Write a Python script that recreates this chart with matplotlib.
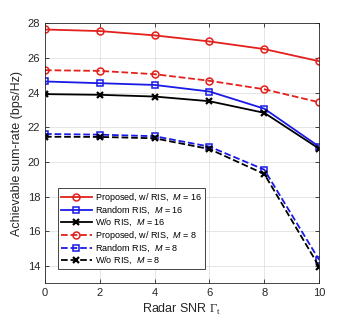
import matplotlib.pyplot as plt

plt.rcParams['font.family'] = 'Liberation Sans'
plt.rcParams['mathtext.fontset'] = 'custom'
plt.rcParams['mathtext.rm'] = 'Liberation Serif'
plt.rcParams['mathtext.it'] = 'Liberation Sans:italic'

snr = [0, 2, 4, 6, 8, 10]
prop16 = [27.65, 27.56, 27.31, 26.96, 26.52, 25.82]
rand16 = [24.65, 24.55, 24.45, 24.07, 23.08, 20.89]
wo16 = [23.92, 23.88, 23.78, 23.51, 22.84, 20.77]
prop8 = [25.3, 25.26, 25.07, 24.69, 24.2, 23.45]
rand8 = [21.62, 21.58, 21.49, 20.89, 19.56, 14.35]
wo8 = [21.46, 21.45, 21.37, 20.75, 19.31, 13.97]

fig = plt.figure(figsize=(3.53, 3.21), dpi=100)
ax = fig.add_axes([0.1275, 0.1174, 0.7765, 0.8096])

red = '#e3201b'
blue = '#1a1ae6'
lw = 1.3
ax.plot(snr, prop16, '-o', color=red, lw=lw, ms=5, mfc='none', mew=1.1,
        label='Proposed, w/ RIS,  $\\mathit{M}$ = 16')
ax.plot(snr, rand16, '-s', color=blue, lw=lw, ms=4.5, mfc='none', mew=1.1,
        label='Random RIS,  $\\mathit{M}$ = 16')
ax.plot(snr, wo16, '-x', color='black', lw=lw, ms=4, mew=1.6,
        label='W/o RIS,  $\\mathit{M}$ = 16')
ax.plot(snr, prop8, '--o', color=red, lw=lw, ms=5, mfc='none', mew=1.1,
        label='Proposed, w/ RIS,  $\\mathit{M}$ = 8')
ax.plot(snr, rand8, '--s', color=blue, lw=lw, ms=4.5, mfc='none', mew=1.1,
        label='Random RIS,  $\\mathit{M}$ = 8')
ax.plot(snr, wo8, '--x', color='black', lw=lw, ms=4, mew=1.6,
        label='W/o RIS,  $\\mathit{M}$ = 8')

ax.set_xlim(0, 10)
ax.set_ylim(13, 28)
ax.set_xticks([0, 2, 4, 6, 8, 10])
ax.set_yticks([14, 16, 18, 20, 22, 24, 26, 28])
ax.tick_params(direction='in', labelsize=8, length=3, width=0.6, colors='#262626',
               top=True, right=True)
for s in ax.spines.values():
    s.set_linewidth(0.6)
    s.set_color('#262626')
ax.grid(True, color='#e0e0e0', lw=0.6)
ax.set_axisbelow(True)
ax.set_xlabel('Radar SNR $\\Gamma_{\\mathrm{t}}$', fontsize=9, color='#262626', labelpad=3)
ax.set_ylabel('Achievable sum-rate (bps/Hz)', fontsize=9, color='#262626', labelpad=3)

leg = ax.legend(loc='lower left', bbox_to_anchor=(0.047, 0.055), fontsize=6.5,
                fancybox=False, edgecolor='#262626', framealpha=1,
                handlelength=3.5, handletextpad=0.3, borderpad=0.3,
                labelspacing=0.08, borderaxespad=0)
leg.get_frame().set_linewidth(0.6)

fig.savefig('out.png', dpi=100)
